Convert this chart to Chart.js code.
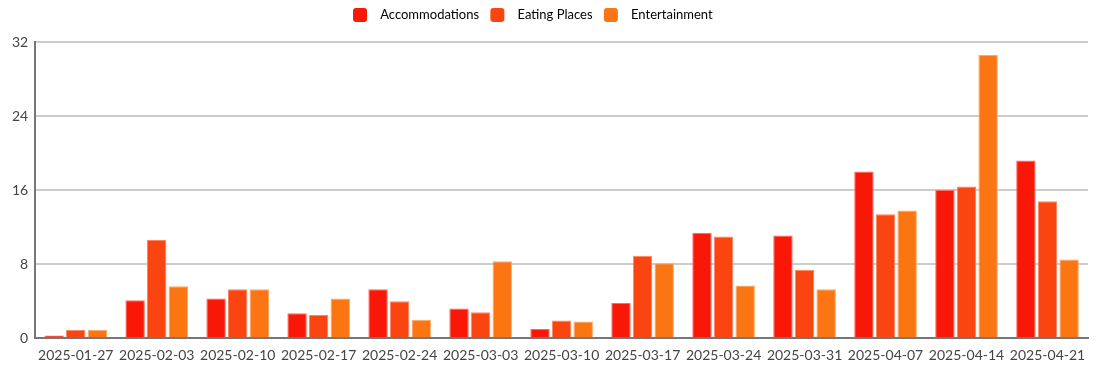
<!DOCTYPE html>
<html>
<head>
<meta charset="utf-8">
<script src="https://cdn.jsdelivr.net/npm/chart.js@4/dist/chart.umd.min.js"></script>
<style>
  html, body { margin: 0; padding: 0; background: #fff; }
  #wrap { width: 1100px; height: 365px; }
</style>
</head>
<body>
<div id="wrap"><canvas id="weekly-chart"></canvas></div>
<script>
// week starting dates
const weeks = ['2025-01-27', '2025-02-03', '2025-02-10', '2025-02-17', '2025-02-24', '2025-03-03',
    '2025-03-10', '2025-03-17', '2025-03-24', '2025-03-31', '2025-04-07', '2025-04-14', '2025-04-21'];

// values
const accommodations = [0.3, 4.1, 4.3, 2.7, 5.3, 3.2, 1.0, 3.8, 11.4, 11.1, 18.0, 16.0, 19.2];
const eatingPlaces = [0.9, 10.6, 5.3, 2.5, 4.0, 2.8, 1.9, 8.9, 11.0, 7.4, 13.4, 16.4, 14.8];
const entertainment = [0.9, 5.6, 5.3, 4.3, 2.0, 8.3, 1.8, 8.1, 5.7, 5.3, 13.8, 30.6, 8.5];

const yTicks = [0, 8, 16, 24, 32];

const fontFamily = 'Lato, "Noto Sans", sans-serif';

//push the plot area down below the legend and nudge the legend a little to the left
const legendSpacer = {
    id: 'legendSpacer',
    beforeInit(chart) {
        const fit = chart.legend.fit;
        chart.legend.fit = function () {
            fit.bind(this)();
            this.height += 10;
        };
    },
    afterLayout(chart) {
        chart.legend.right -= 24;
    }
};

const ctx = document.querySelector('#weekly-chart').getContext('2d');
const chart = new Chart(ctx, {
    type: 'bar',
    data: {
        labels: weeks,
        datasets: [
            {
                label: 'Accommodations',
                data: accommodations,
                backgroundColor: '#f91707',
                borderColor: '#fb6a5c',
                borderWidth: 1
            },
            {
                label: 'Eating Places',
                data: eatingPlaces,
                backgroundColor: '#fb4510',
                borderColor: '#fd8660',
                borderWidth: 1
            },
            {
                label: 'Entertainment',
                data: entertainment,
                backgroundColor: '#fc7513',
                borderColor: '#fdaa66',
                borderWidth: 1
            }
        ]
    },
    plugins: [legendSpacer],
    options: {
        responsive: true,
        maintainAspectRatio: false,
        animation: false,
        layout: { padding: { left: 5, right: 12, top: 0, bottom: 0 } },
        datasets: {
            bar: { categoryPercentage: 0.8, barPercentage: 0.9 }
        },
        plugins: {
            tooltip: { enabled: false },
            legend: {
                position: 'top',
                labels: {
                    color: '#222',
                    font: { family: fontFamily, size: 13 },
                    boxWidth: 14,
                    boxHeight: 14,
                    useBorderRadius: true,
                    padding: 8,
                    generateLabels(chart) {
                        return chart.data.datasets.map((ds, i) => ({
                            text: '  ' + ds.label + ' ',
                            fillStyle: ds.backgroundColor,
                            strokeStyle: ds.backgroundColor,
                            lineWidth: 0,
                            borderRadius: 3,
                            hidden: !chart.isDatasetVisible(i),
                            datasetIndex: i
                        }));
                    }
                }
            }
        },
        scales: {
            x: {
                grid: { display: false },
                border: { display: true, color: '#777', width: 2 },
                ticks: {
                    color: '#444',
                    padding: 1,
                    font: { family: fontFamily, size: 14 },
                    maxRotation: 0,
                    autoSkip: false
                }
            },
            y: {
                min: 0,
                max: 32,
                afterBuildTicks: (axis) => { axis.ticks = yTicks.map(v => ({ value: v })); },
                grid: { color: '#cccccc', lineWidth: 2, drawTicks: false },
                border: { display: true, color: '#777', width: 2 },
                ticks: {
                    color: '#444',
                    padding: 7,
                    font: { family: fontFamily, size: 14 }
                }
            }
        }
    }
});
</script>
</body>
</html>
